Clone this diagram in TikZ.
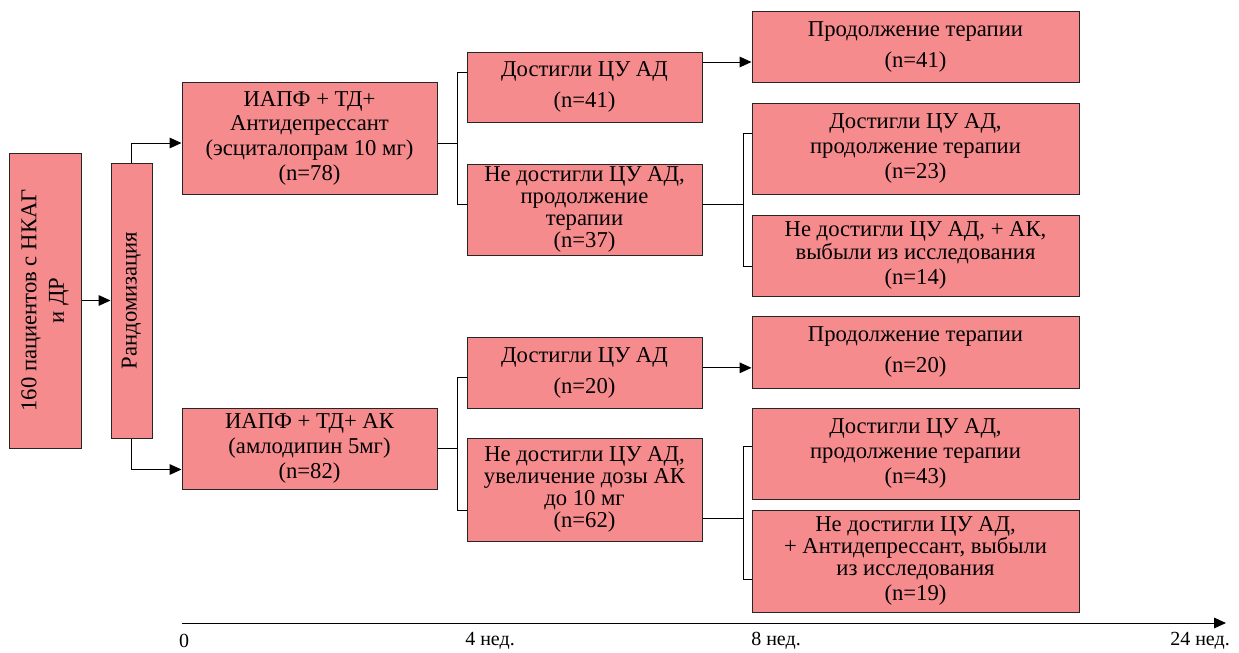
\documentclass[tikz,border=0pt]{standalone}
\usepackage{fontspec}
\setmainfont{Liberation Serif}
\usetikzlibrary{arrows.meta}
\definecolor{boxpink}{RGB}{246,139,142}
\tikzstyle{block} = [rectangle, fill=boxpink, draw=black!85, line width=0.75pt,
align=center, inner sep=0pt, font=\fontsize{17}{18.5}\selectfont]
\tikzstyle{arrow} = [line width=0.75pt,-{Triangle[length=9pt,width=8pt]}]
\tikzstyle{line} = [line width=0.75pt]
\tikzstyle{week} = [inner sep=0pt, font=\fontsize{15}{18}\selectfont]

\begin{document}
\begin{tikzpicture}[x=0.75pt, y=-0.75pt]
    \useasboundingbox (0,0) rectangle (1239,653);
    % Start and randomisation
    \node (pat) [block, rotate=90, minimum width=221.25pt, minimum height=54pt] at (45,300.5)
        {160 пациентов с НКАГ\\[2pt] и ДР};
    \node (rand) [block, rotate=90, minimum width=206.25pt, minimum height=30.75pt] at (131.5,300.5)
        {Рандомизация};
    % Treatment arms
    \node (armA) [block, minimum width=191.25pt, minimum height=84pt] at (309.5,138)
        {ИАПФ + ТД+\\ Антидепрессант\\ (эсциталопрам 10 мг)\\ (n=78)};
    \node (armB) [block, minimum width=191.25pt, minimum height=60.75pt] at (309.5,448.5)
        {ИАПФ + ТД+ АК\\ (амлодипин 5мг)\\ (n=82)};
    % 4 weeks
    \node (reachA) [block, minimum width=176.25pt, minimum height=52.5pt] at (584.5,87)
        {Достигли ЦУ АД\\[4.75pt] (n=41)};
    \node (failA) [block, minimum width=176.25pt, minimum height=68.25pt] at (584.5,209.5)
        {Не достигли ЦУ АД,\\[-2pt] продолжение\\[-2pt] терапии\\[-2pt] (n=37)};
    \node (reachB) [block, minimum width=176.25pt, minimum height=53.25pt] at (584.5,372.5)
        {Достигли ЦУ АД\\[4.75pt] (n=20)};
    \node (failB) [block, minimum width=176.25pt, minimum height=77.25pt] at (584.5,489.5)
        {Не достигли ЦУ АД,\\[-2pt] увеличение дозы АК\\[-2pt] до 10 мг\\[-2pt] (n=62)};
    % 8 weeks
    \node (contA) [block, minimum width=245.25pt, minimum height=53.25pt] at (915.5,46.5)
        {Продолжение терапии\\[4.75pt] (n=41)};
    \node (goalA) [block, minimum width=245.25pt, minimum height=68.25pt] at (915.5,148.5)
        {Достигли ЦУ АД,\\ продолжение терапии\\ (n=23)};
    \node (dropA) [block, minimum width=245.25pt, minimum height=60.75pt] at (915.5,255.5)
        {Не достигли ЦУ АД, + АК,\\[-1pt] выбыли из исследования\\ (n=14)};
    \node (contB) [block, minimum width=245.25pt, minimum height=54pt] at (915.5,352)
        {Продолжение терапии\\[4.75pt] (n=20)};
    \node (goalB) [block, minimum width=245.25pt, minimum height=68.25pt] at (915.5,453.5)
        {Достигли ЦУ АД,\\ продолжение терапии\\ (n=43)};
    \node (dropB) [block, minimum width=245.25pt, minimum height=76.5pt] at (915.5,561)
        {Не достигли ЦУ АД,\\[-2pt] + Антидепрессант, выбыли\\[-2pt] из исследования\\ (n=19)};
    % Connections
    \draw [arrow] (pat) -- (rand);
    \draw [arrow] (rand.east) |- ([yshift=-3.75pt]armA.west);
    \draw [arrow] (rand.west) |- ([yshift=-15.75pt]armB.west);
    \draw [line] ([yshift=-3.75pt]armA.east) -- ++(20,0) coordinate (splitA);
    \draw [line] ([yshift=11.25pt]reachA.west) -| (splitA) |- ([yshift=4pt]failA.west);
    \draw [line] (armB.east) -- ++(20,0) coordinate (splitB);
    \draw [line] ([yshift=-4pt]reachB.west) -| (splitB) |- ([yshift=-15.5pt]failB.west);
    \draw [arrow] ([yshift=18.75pt]reachA.east) -- ([yshift=18.75pt]reachA.east -| contA.west);
    \draw [arrow] ([yshift=3.5pt]reachB.east) -- ([yshift=3.5pt]reachB.east -| contB.west);
    \draw [line] ([yshift=4pt]failA.east) -- ++(41,0) coordinate (splitC);
    \draw [line] ([yshift=11.5pt]goalA.west) -| (splitC) |- ([yshift=-8pt]dropA.west);
    \draw [line] ([yshift=-22pt]failB.east) -- ++(41,0) coordinate (splitD);
    \draw [line] ([yshift=5pt]goalB.west) -| (splitD) |- ([yshift=-13.5pt]dropB.west);
    % Time axis
    \coordinate (t0) at (182,623);
    \coordinate (t1) at (1226,623);
    \draw [arrow] (t0) -- (t1);
    \node (w0) [week] at (184,641) {0};
    \node (w4) [week] at (490,641) {4 нед.};
    \node (w8) [week] at (776,641) {8 нед.};
    \node (w24) [week] at (1200,641) {24 нед.};
\end{tikzpicture}
\end{document}
